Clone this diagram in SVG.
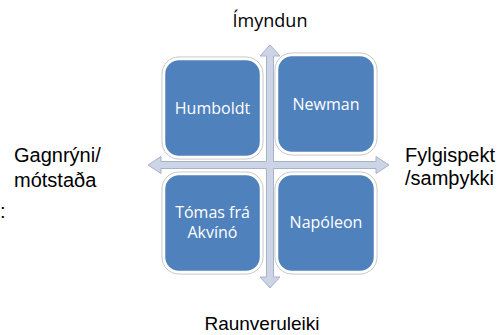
<svg xmlns="http://www.w3.org/2000/svg" width="502" height="335" viewBox="0 0 502 335">
<style>
.box{fill:#4f81bd;stroke:#ffffff;stroke-width:2.5}
.halo{fill:none;stroke:#c3c3c3;stroke-width:1}
.bt{font-family:"Open Sans","Noto Sans",sans-serif;font-size:16px;fill:#ffffff;text-anchor:middle}
.lbl{font-family:"Liberation Sans",Arial,sans-serif;font-size:20px;fill:#000000}
.arrow{fill:#ccd4e6;stroke:#a6b1ca;stroke-width:1}
</style>
<rect width="502" height="335" fill="#ffffff"/>
<g id="connectors">
<path class="arrow" d="M270,45 L280,56 L273.5,56 L273.5,161.5 L376,161.5 L376,156.5 L389,165 L376,173.5 L376,168.5 L273.5,168.5 L273.5,277 L280,277 L270,288 L260,277 L266.5,277 L266.5,168.5 L161,168.5 L161,173.5 L148,165 L161,156.5 L161,161.5 L266.5,161.5 L266.5,56 L260,56 Z"/>
</g>
<g id="humboldt">
<rect class="halo" x="162" y="57" width="101" height="102" rx="17"/>
<rect class="box" x="164" y="59" width="97" height="98" rx="15"/>
<text class="bt" x="212.5" y="114">Humboldt</text>
</g>
<g id="newman">
<rect class="halo" x="275" y="53" width="102" height="102" rx="17"/>
<rect class="box" x="277" y="55" width="98" height="98" rx="15"/>
<text class="bt" x="326" y="110">Newman</text>
</g>
<g id="tomas">
<rect class="halo" x="162" y="172" width="101" height="102" rx="17"/>
<rect class="box" x="164" y="174" width="97" height="98" rx="15"/>
<text class="bt" x="212.5" y="218">Tómas frá</text>
<text class="bt" x="212.5" y="238">Akvínó</text>
</g>
<g id="napoleon">
<rect class="halo" x="275" y="172" width="102" height="102" rx="17"/>
<rect class="box" x="277" y="174" width="98" height="98" rx="15"/>
<text class="bt" x="326" y="228">Napóleon</text>
</g>
<g id="imyndun">
<text x="270" y="27" style="font-family:'Open Sans','Noto Sans',sans-serif;font-size:18px;fill:#000;text-anchor:middle">Ímyndun</text>
</g>
<g id="raunveruleiki">
<text class="lbl" x="262" y="330" style="text-anchor:middle;font-size:19px">Raunveruleiki</text>
</g>
<g id="gagnryni">
<text class="lbl" x="14" y="162">Gagnrýni/</text>
<text class="lbl" x="14" y="187">mótstaða</text>
</g>
<g id="fylgispekt">
<text class="lbl" x="405" y="162">Fylgispekt</text>
<text class="lbl" x="405" y="185">/samþykki</text>
</g>
<text class="lbl" x="0" y="218">:</text>
</svg>
